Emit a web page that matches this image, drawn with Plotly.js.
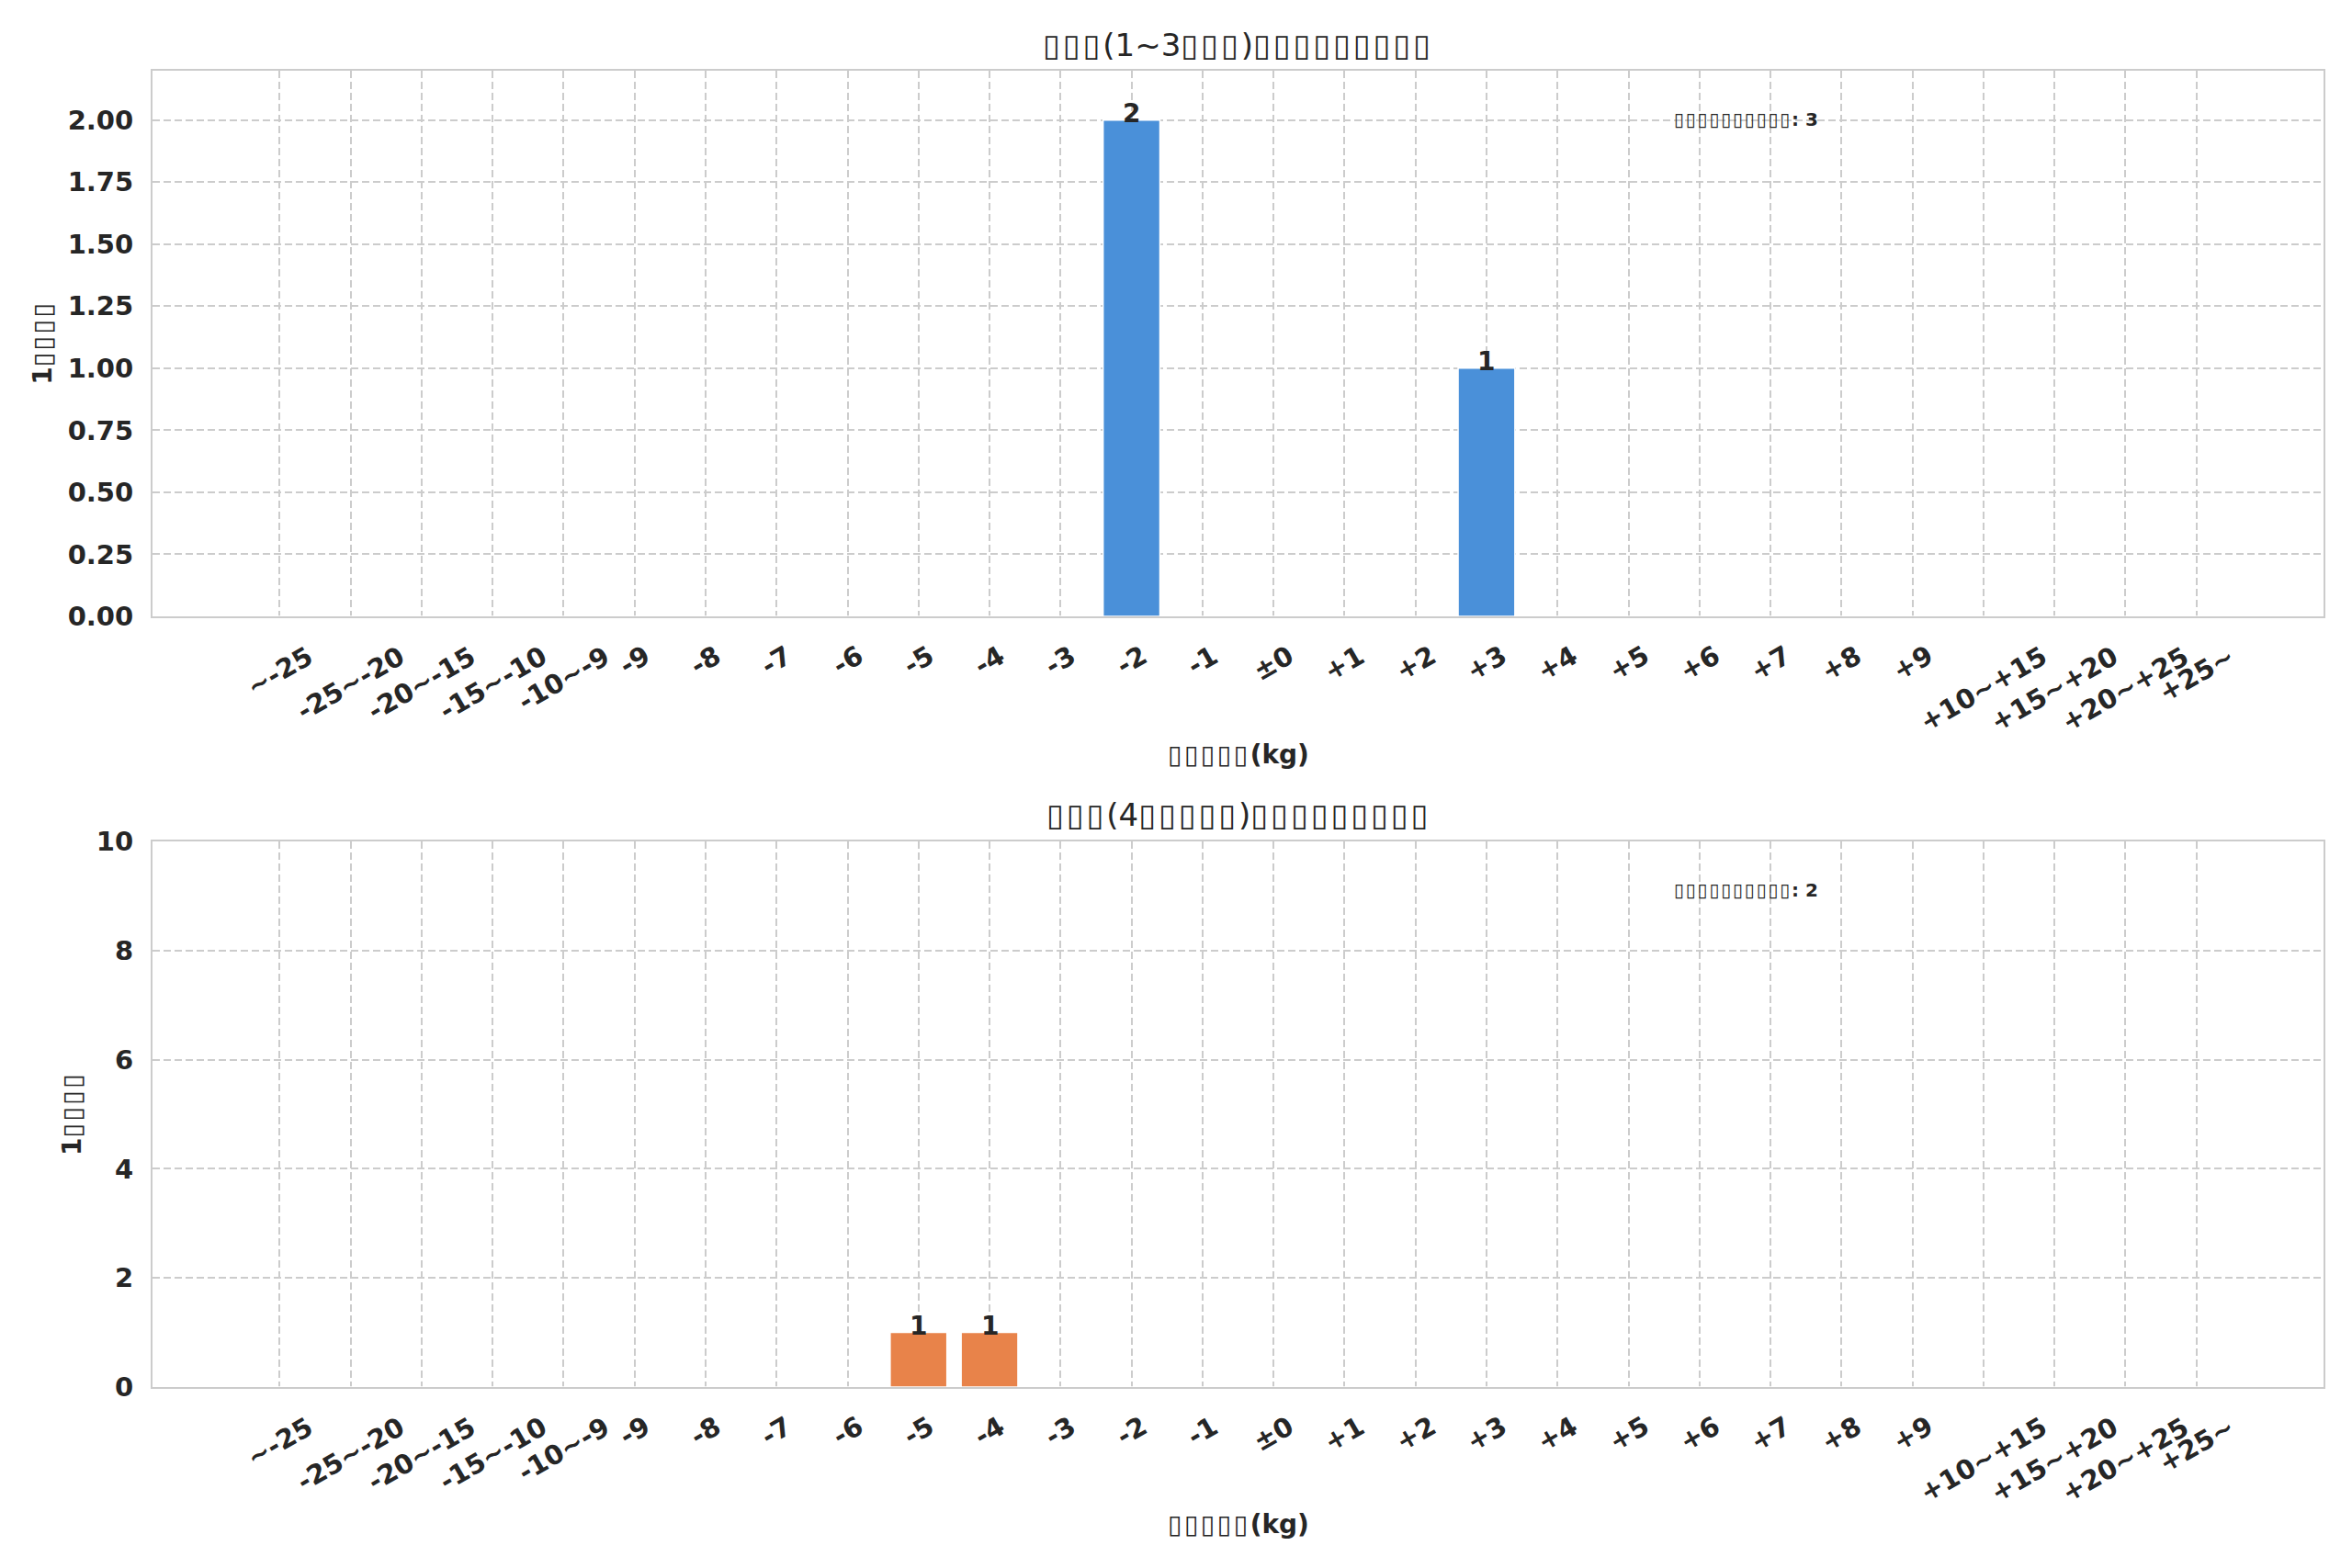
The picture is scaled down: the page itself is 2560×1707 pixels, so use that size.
<!DOCTYPE html>
<html><head><meta charset="utf-8">
<script src="https://cdn.plot.ly/plotly-3.0.1.min.js"></script>
<style>html,body{margin:0;padding:0;background:#fff}</style>
</head><body><div id="chart" style="width:2560px;height:1707px"></div>
<script>
const categories = ["~-25","-25~-20","-20~-15","-15~-10","-10~-9","-9","-8","-7","-6","-5","-4","-3","-2","-1","±0","+1","+2","+3","+4","+5","+6","+7","+8","+9","+10~+15","+15~+20","+20~+25","+25~"];
const countsTop    = [0,0,0,0,0,0,0,0,0,0,0,0,2,0,0,0,0,1,0,0,0,0,0,0,0,0,0,0];
const countsBottom = [0,0,0,0,0,0,0,0,0,1,1,0,0,0,0,0,0,0,0,0,0,0,0,0,0,0,0,0];
const titleTop = "▯▯▯(1~3▯▯▯)▯▯▯▯▯▯▯▯▯";
const titleBottom = "▯▯▯(4▯▯▯▯▯)▯▯▯▯▯▯▯▯▯";
const xLabel = "▯▯▯▯▯(kg)";
const yLabel = "1▯▯▯▯";
const totalPrefix = "▯▯▯▯▯▯▯▯▯▯: ";
const colorTop = "#4a90d9";
const colorBottom = "#e8834a";

const FONT = "DejaVu Sans";
const TXT = "#262626";
const W = 2560, H = 1707;
const xDom = [166/W, 2529/W];
const yDomTop = [1-671/H, 1-76.7/H];
const yDomBot = [1-1510/H, 1-916/H];

// widen the missing-glyph boxes a little, as the reference's tofu boxes are wider
function tofu(s){
  return s.replace(/▯+/g, m => '<span style="letter-spacing:0.09em">' + m + '</span>');
}

function bar(vals, color, xa, ya){
  return {type:"bar", x:categories, y:vals, xaxis:xa, yaxis:ya, width:0.8,
    marker:{color:color, line:{color:"#ffffff", width:1.5}}, hoverinfo:"skip", showlegend:false};
}
const data = [bar(countsTop, colorTop, "x", "y"), bar(countsBottom, colorBottom, "x2", "y2")];

const grid = {showgrid:true, gridcolor:"#cccccc", gridwidth:2, griddash:"8px,4px",
  showline:true, mirror:true, linecolor:"#cccccc", linewidth:2, zeroline:false, ticks:""};
const tickFont = {family:FONT, size:29, color:TXT, weight:"bold"};

const annotations = [];
function panel(vals, xa, ya, title, titleY, xTitleY, yTitleX){
  const xr = xa, yr = ya, yd = ya + " domain";
  categories.forEach((c,i)=>{
    annotations.push({xref:xr, yref:yd, x:i, y:0, yshift:-23, xanchor:"center", yanchor:"top",
      textangle:-30, text:c, showarrow:false, font:tickFont});
    if (vals[i] > 0) annotations.push({xref:xr, yref:yr, x:i, y:vals[i], yshift:-11, xanchor:"center", yanchor:"bottom",
      text:String(vals[i]), showarrow:false, font:{family:FONT, size:28, color:TXT, weight:"bold"}});
  });
  const total = vals.reduce((a,b)=>a+b,0);
  annotations.push({xref:xr+" domain", yref:yd, x:0.7, y:0.91, xanchor:"left", yanchor:"middle",
    text:tofu(totalPrefix)+total, showarrow:false, font:{family:FONT, size:20, color:TXT, weight:"bold"}});
  annotations.push({xref:"paper", yref:"paper", x:(xDom[0]+xDom[1])/2, y:titleY, xanchor:"center", yanchor:"middle",
    text:tofu(title), showarrow:false, font:{family:FONT, size:34, color:TXT}});
  annotations.push({xref:"paper", yref:"paper", x:(xDom[0]+xDom[1])/2, y:xTitleY, xanchor:"center", yanchor:"middle",
    text:tofu(xLabel), showarrow:false, font:{family:FONT, size:28, color:TXT, weight:"bold"}});
  annotations.push({xref:"paper", yref:yd, x:yTitleX, y:0.5, xanchor:"center", yanchor:"middle", textangle:-90,
    text:tofu(yLabel), showarrow:false, font:{family:FONT, size:28, color:TXT, weight:"bold"}});
}
panel(countsTop, "x", "y", titleTop, 1-49/H, 1-821/H, 47/W);
panel(countsBottom, "x2", "y2", titleBottom, 1-886.5/H, 1-1659/H, 78/W);

const layout = {
  width:W, height:H, margin:{l:0,r:0,t:0,b:0}, paper_bgcolor:"#fff", plot_bgcolor:"#fff",
  font:{family:FONT, color:TXT},
  xaxis:Object.assign({domain:xDom, anchor:"y", type:"category", range:[-1.79,28.79], showticklabels:false}, grid),
  yaxis:Object.assign({domain:yDomTop, anchor:"x", range:[0,2.2], tick0:0, dtick:0.25, tickformat:".2f",
    tickfont:tickFont, ticklabelstandoff:13}, grid),
  xaxis2:Object.assign({domain:xDom, anchor:"y2", type:"category", range:[-1.79,28.79], showticklabels:false}, grid),
  yaxis2:Object.assign({domain:yDomBot, anchor:"x2", range:[0,10], tick0:0, dtick:2,
    tickfont:tickFont, ticklabelstandoff:13}, grid),
  annotations:annotations, bargap:0.2
};
Plotly.newPlot("chart", data, layout, {displayModeBar:false, staticPlot:true});
</script></body></html>
